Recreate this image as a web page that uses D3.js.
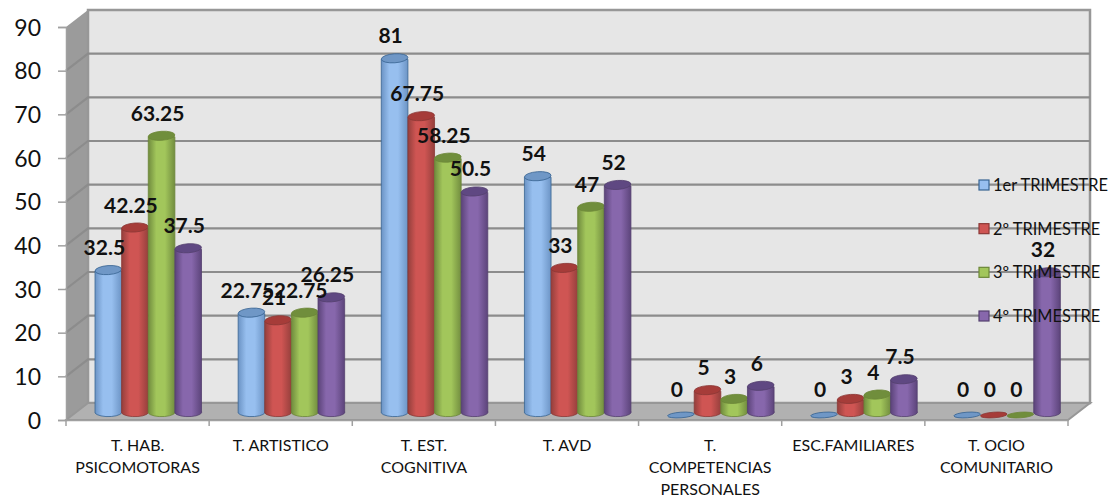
<!DOCTYPE html>
<html>
<head>
<meta charset="utf-8">
<script src="https://cdnjs.cloudflare.com/ajax/libs/d3/7.8.5/d3.min.js"></script>
<style>
html, body { margin: 0; background: #fff; }
svg { display: block; }
text { font-family: Lato, "Open Sans", sans-serif; fill: #111; }
</style>
</head>
<body>
<svg width="1109" height="498"></svg>
<script>
const categories = ['T. HAB. PSICOMOTORAS', 'T. ARTISTICO', 'T. EST. COGNITIVA', 'T. AVD', 'T. COMPETENCIAS PERSONALES', 'ESC.FAMILIARES', 'T. OCIO COMUNITARIO'];
const categoryLines = [['T. HAB.', 'PSICOMOTORAS'], ['T. ARTISTICO'], ['T. EST.', 'COGNITIVA'], ['T. AVD'], ['T.', 'COMPETENCIAS', 'PERSONALES'], ['ESC.FAMILIARES'], ['T. OCIO', 'COMUNITARIO']];
const seriesNames = ['1er TRIMESTRE', '2º TRIMESTRE', '3º TRIMESTRE', '4º TRIMESTRE'];
const trimestre1 = [32.5, 22.75, 81, 54, 0, 0, 0];
const trimestre2 = [42.25, 21, 67.75, 33, 5, 3, 0];
const trimestre3 = [63.25, 22.75, 58.25, 47, 3, 4, 0];
const trimestre4 = [37.5, 26.25, 50.5, 52, 6, 7.5, 32];
const allSeries = [trimestre1, trimestre2, trimestre3, trimestre4];
const yTicks = [0, 10, 20, 30, 40, 50, 60, 70, 80, 90];

const fills = [
  {edge: '#6b93c4', mid: '#97bfef', top: '#6f97c6', line: '#386492'},
  {edge: '#943f3c', mid: '#cf5553', top: '#a63c39', line: '#8c3836'},
  {edge: '#708b3e', mid: '#a2c65b', top: '#708e3c', line: '#6c8738'},
  {edge: '#5b4379', mid: '#8767ac', top: '#5f4882', line: '#54406f'}
];

const svg = d3.select('svg');
const depthX = 22, depthY = 17;   // offset of back wall
const barY = 7;                   // bars stand in the middle of the floor

const x = d3.scaleBand().domain(categories).range([66, 1068]);
const xInner = d3.scaleBand().domain(d3.range(4)).range([29, 135.5]);
const y = d3.scaleLinear().domain([0, 90]).range([420, 27]);

// gradients
const defs = svg.append('defs');
fills.forEach((f, i) => {
  const g = defs.append('linearGradient').attr('id', 'cyl' + i);
  g.append('stop').attr('offset', '0%').attr('stop-color', f.edge);
  g.append('stop').attr('offset', '30%').attr('stop-color', f.mid);
  g.append('stop').attr('offset', '62%').attr('stop-color', f.mid);
  g.append('stop').attr('offset', '100%').attr('stop-color', f.edge);
});

const x0 = x.range()[0], x1 = x.range()[1], y0 = y(0), y90 = y(90);

// walls and floor
svg.append('path')
  .attr('d', `M${x0},${y90}L${x0 + depthX},${y90 - depthY}V${y0 - depthY}L${x0},${y0}Z`)
  .attr('fill', '#9b9b9b');
svg.append('rect')
  .attr('x', x0 + depthX).attr('y', y90 - depthY)
  .attr('width', x1 - x0).attr('height', y0 - y90)
  .attr('fill', '#e6e6e6').attr('stroke', '#979797').attr('stroke-width', 2.5);
svg.append('path')
  .attr('d', `M${x0},${y0}L${x0 + depthX},${y0 - depthY}H${x1 + depthX}L${x1},${y0}Z`)
  .attr('fill', '#b1b1b1').attr('stroke', '#979797').attr('stroke-width', 2);

// gridlines on both walls
svg.append('g').selectAll('path')
  .data(yTicks.slice(1, -1))
  .enter()
  .append('path')
  .attr('d', d => `M${x0},${y(d)}L${x0 + depthX},${y(d) - depthY}H${x1 + depthX}`)
  .attr('fill', 'none').attr('stroke', '#8c8c8c').attr('stroke-width', 2.2);

// y axis
const yAxis = svg.append('g')
  .attr('transform', `translate(${x0},0)`)
  .call(d3.axisLeft(y).tickValues(yTicks).tickSize(8).tickPadding(17));
yAxis.select('.domain').attr('stroke', '#a0a0a0').attr('stroke-width', 1.5);
yAxis.selectAll('line').attr('stroke', '#a0a0a0').attr('stroke-width', 1.5);
yAxis.selectAll('text').style('font-size', '23px').attr('fill', '#111').attr('dy', '0.36em');

// x axis, ticks sit on the category boundaries
const xAxis = svg.append('g')
  .attr('transform', `translate(0,${y0})`)
  .call(d3.axisBottom(x).tickSize(0).tickPadding(0));
xAxis.select('.domain').attr('stroke', '#a0a0a0').attr('stroke-width', 1.5);
xAxis.selectAll('.tick text').each(function (d, i) {
  const t = d3.select(this).text(null).attr('y', 0).attr('dy', null).style('font-size', '16px').attr('fill', '#111');
  categoryLines[i].forEach((line, k) => {
    t.append('tspan').attr('x', 0).attr('y', 31 + k * 22).text(line);
  });
});
xAxis.selectAll('.bound')
  .data(d3.range(categories.length + 1))
  .enter()
  .append('line')
  .attr('x1', i => x0 + i * x.step()).attr('x2', i => x0 + i * x.step())
  .attr('y1', 0).attr('y2', 6)
  .attr('stroke', '#a0a0a0').attr('stroke-width', 1.5);

// cylinders
const rx = xInner.bandwidth() / 2, ry = 4.5;
const heightOf = v => y(0) - y(v);
const base = y(0) - barY;

seriesNames.forEach((name, s) => {
  const g = svg.append('g');
  allSeries[s].forEach((v, c) => {
    const left = x(categories[c]) + xInner(s);
    const cx = left + rx;
    const top = base - heightOf(v);
    if (v > 0) {
      g.append('path')
        .attr('d', `M${left},${top}V${base}A${rx},${ry} 0 0 0 ${left + 2 * rx},${base - 2}V${top}Z`)
        .attr('fill', `url(#cyl${s})`)
        .attr('stroke', fills[s].line).attr('stroke-width', 0.8);
    }
    const cy = top + (v > 0 ? -1 : 2);
    g.append('ellipse')
      .attr('cx', cx).attr('cy', cy)
      .attr('rx', rx).attr('ry', v > 0 ? ry : 2.8)
      .attr('transform', `rotate(-4,${cx},${cy})`)
      .attr('fill', fills[s].top)
      .attr('stroke', fills[s].line).attr('stroke-width', 0.8);
  });
});

// value labels
seriesNames.forEach((name, s) => {
  svg.append('g').selectAll('text')
    .data(allSeries[s])
    .enter()
    .append('text')
    .attr('x', (v, c) => x(categories[c]) + xInner(s) + rx - 4)
    .attr('y', v => base - heightOf(v) - 16)
    .attr('text-anchor', 'middle')
    .style('font-size', '21px').style('font-weight', 700)
    .text(v => v);
});

// legend
const legendY = d3.scalePoint().domain(seriesNames).range([185, 316]);
const legend = svg.append('g').selectAll('g')
  .data(seriesNames)
  .enter()
  .append('g')
  .attr('transform', d => `translate(979,${legendY(d)})`);
legend.append('rect')
  .attr('x', 0).attr('y', -5).attr('width', 10).attr('height', 10)
  .attr('fill', (d, i) => fills[i].mid)
  .attr('stroke', (d, i) => fills[i].line).attr('stroke-width', 1.2);
legend.append('text')
  .attr('x', 14).attr('dy', '0.36em')
  .style('font-size', '16.4px')
  .text(d => d);
</script>
</body>
</html>
